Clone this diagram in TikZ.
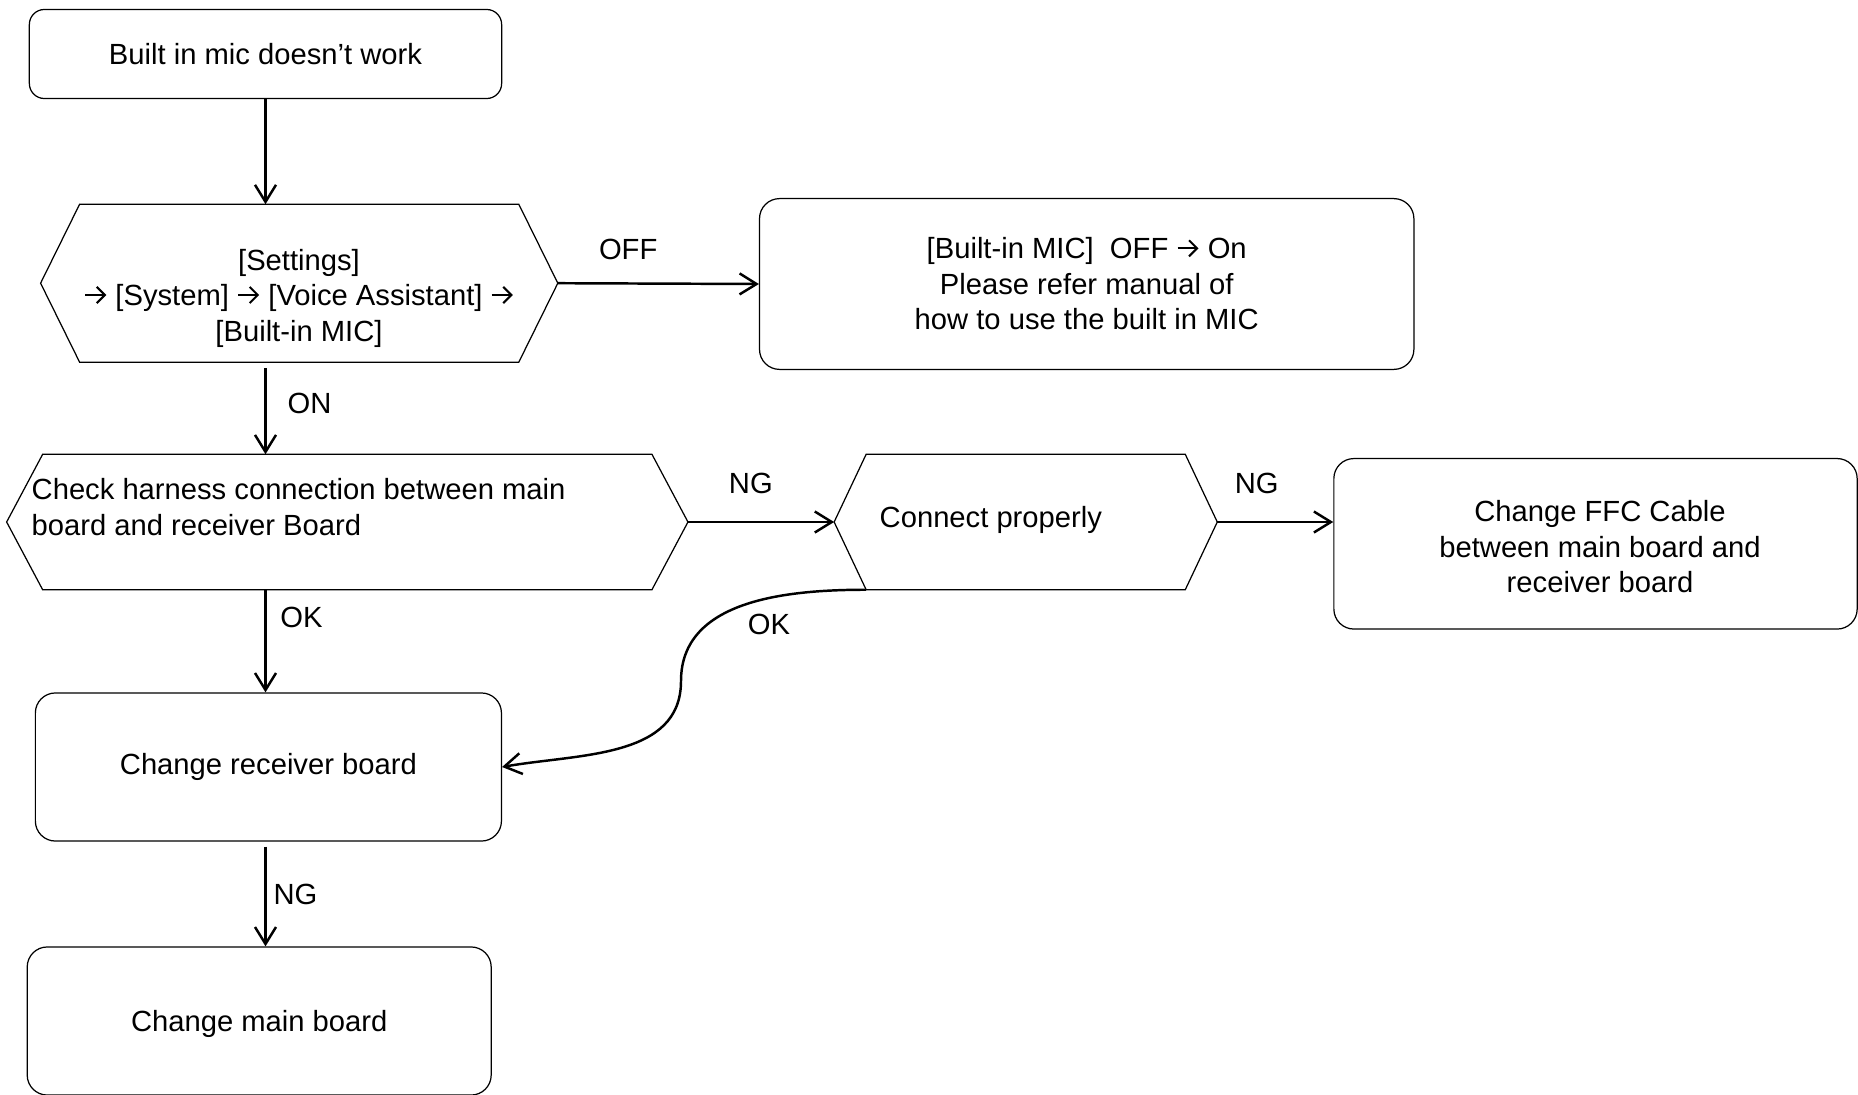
\documentclass[tikz,border=0pt]{standalone}
\usepackage{fontspec}
\setmainfont{Liberation Sans}
\usetikzlibrary{arrows.meta,positioning,calc}
\newcommand{\goto}{\tikz[baseline=0pt]\draw[line width=0.6pt,-{Straight Barb[length=2.3pt,width=4.6pt]}] (0pt,3pt) -- (6pt,3pt);}

\begin{document}
\begin{tikzpicture}[x=0.01cm,y=0.01cm,
    every node/.style={font=\fontsize{8.3}{10.1}\selectfont},
    stepbox/.style={draw,line width=0.35pt,rounded corners=0.2cm,align=center,inner sep=0pt},
    hexbox/.style={inner sep=0pt},
    conn/.style={line width=0.7pt,-{Straight Barb[length=0.17cm,width=0.21cm]}},
    lbl/.style={inner sep=0pt}]
  \useasboundingbox (0,0) rectangle (1858,-1094);
  % steps
  \node[stepbox,minimum width=4.72cm,minimum height=0.89cm,rounded corners=0.15cm] (b1) at (265.5,-54) {Built in mic doesn’t work};
  \node[hexbox,minimum width=5.155cm,minimum height=1.565cm] (h2) at (299.2,-283.2) {};
  \node[stepbox,minimum width=6.54cm,minimum height=1.707cm] (b3) at (1086.7,-284) {{[Built-in MIC]}~ OFF \goto{} On\\Please refer manual of\\how to use the built in MIC};
  \node[hexbox,minimum width=6.795cm,minimum height=1.34cm] (h3) at (347.3,-522) {};
  \node[hexbox,minimum width=3.815cm,minimum height=1.34cm] (h4) at (1025.7,-522) {};
  \node[stepbox,minimum width=5.23cm,minimum height=1.704cm] (b5) at (1595.5,-543.8) {};
  \node[stepbox,minimum width=4.658cm,minimum height=1.48cm] (b6) at (268.4,-767) {Change receiver board};
  \node[stepbox,minimum width=4.637cm,minimum height=1.48cm] (b7) at (259.2,-1021) {};
  % texts placed off centre
  \node[lbl,align=center] (t2) at (299,-298) {{[Settings]}\\\goto{} [System] \goto{} [Voice Assistant] \goto\\{}{[Built-in MIC]}};
  \node[lbl,anchor=west,align=left] (t3) at (31,-507) {Check harness connection between main\\board and receiver Board};
  \node[lbl,anchor=west] (t4) at (879,-520) {Connect properly};
  \node[lbl,align=center] (t5) at (1600,-547) {Change FFC Cable\\between main board and\\receiver board};
  \node[lbl] (t7) at (259.2,-1024) {Change main board};
  \foreach \h/\d in {h2/0.39cm,h3/0.36cm,h4/0.32cm}
    \draw[line width=0.35pt] (\h.west) -- ([xshift=\d]\h.north west) -- ([xshift=-\d]\h.north east)
      -- (\h.east) -- ([xshift=-\d]\h.south east) -- ([xshift=\d]\h.south west) -- cycle;
  % connectors
  \draw[conn] (b1.south) -- (b1.south |- h2.north);
  \draw[conn] (h2.east) -- node[lbl,pos=.35,yshift=0.34cm]{OFF} (b3.west);
  \draw[conn,shorten <=0.06cm] (b1.south |- h2.south) -- node[lbl,pos=.45,xshift=0.44cm]{ON} (b1.south |- h3.north);
  \draw[conn] (h3.east) -- node[lbl,pos=.43,yshift=0.385cm]{NG} (h4.west);
  \draw[conn] (h4.east) -- node[lbl,pos=.34,yshift=0.385cm]{NG} (h4.east -| b5.west);
  \draw[conn] (b1.south |- h3.south) -- node[lbl,pos=.27,xshift=0.36cm]{OK} (b1.south |- b6.north);
  \draw[conn,shorten <=0.05cm] (b1.south |- b6.south) -- node[lbl,pos=.5,xshift=0.3cm]{NG} (b1.south |- b7.north);
  \coordinate (okbend) at (681,-681);
  \draw[conn] ([xshift=0.32cm]h4.south west) to[out=180,in=90] (okbend) to[out=-90,in=10] (b6.east);
  \node[lbl] (okl) at (769,-624) {OK};
\end{tikzpicture}
\end{document}
